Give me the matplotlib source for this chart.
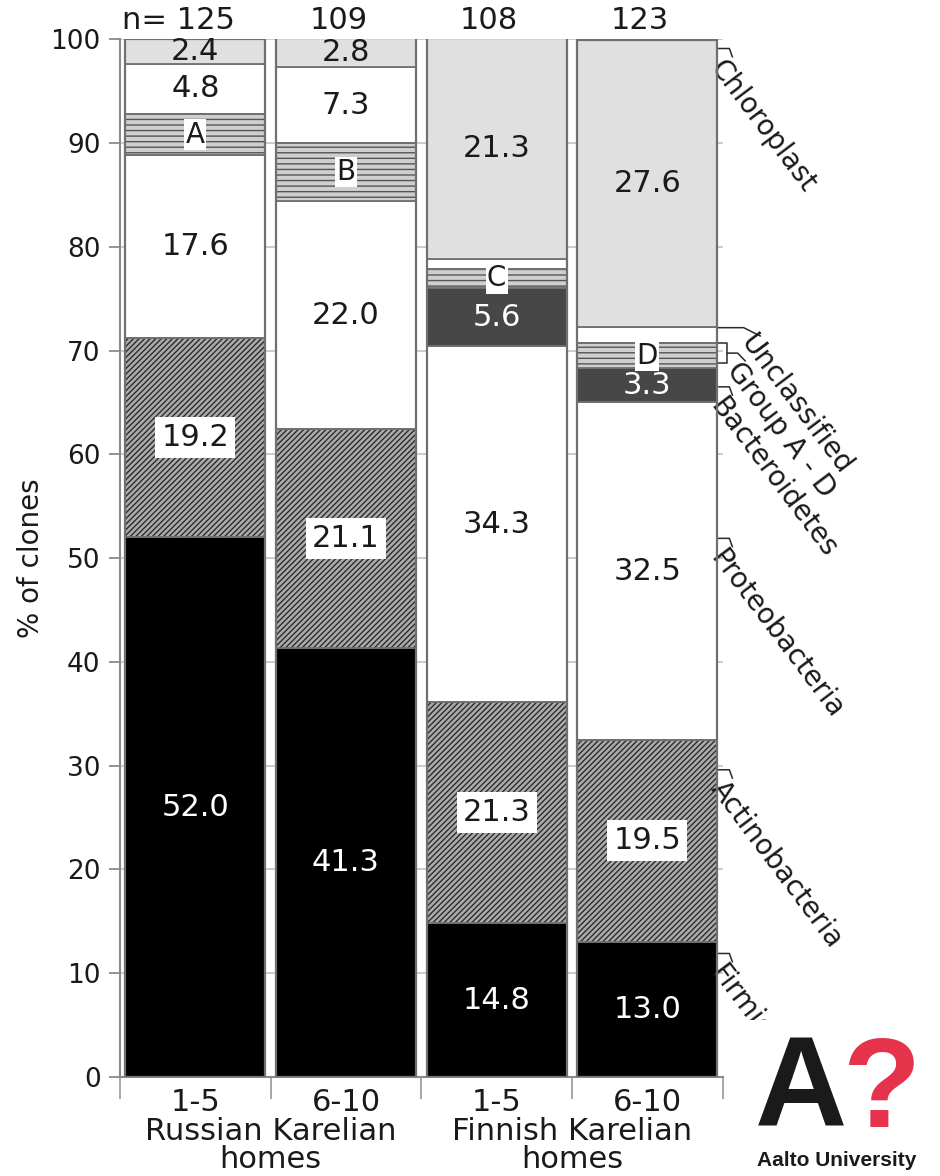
import numpy as np
import matplotlib
matplotlib.use("Agg")
from matplotlib import pyplot as plt
from matplotlib.patches import Rectangle
from matplotlib import transforms
from matplotlib.transforms import Bbox

# data (% of clones)
sites = ['1-5', '6-10', '1-5', '6-10']
n_clones = [125, 109, 108, 123]
firmicutes = [52.0, 41.3, 14.8, 13.0]
actinobacteria = [19.2, 21.1, 21.3, 19.5]
proteobacteria = [17.6, 22.0, 34.3, 32.5]
bacteroidetes = [0.0, 0.0, 5.6, 3.3]
group_ad = [4.0, 5.6, 1.9, 2.4]
unclassified = [4.8, 7.3, 0.9, 1.6]
chloroplast = [2.4, 2.8, 21.3, 27.6]
group_letters = ['A', 'B', 'C', 'D']
home_groups = ['Russian Karelian\nhomes', 'Finnish Karelian\nhomes']

taxa = ['Firmicutes', 'Actinobacteria', 'Proteobacteria', 'Bacteroidetes',
        'Group A - D', 'Unclassified', 'Chloroplast']
values = [firmicutes, actinobacteria, proteobacteria, bacteroidetes,
          group_ad, unclassified, chloroplast]

face = ['black', '#ababab', 'white', '#474747', '#cfcfcf', 'white', '#e0e0e0']
hatch = [None, '//////', None, None, '---', None, None]
hatchcol = [None, '#2c2c2c', None, None, '#555555', None, None]
txtcol = ['white', '#1a1a1a', '#1a1a1a', 'white', None, '#1a1a1a', '#1a1a1a']
edge = '#707070'

plt.rcParams['hatch.linewidth'] = 1.0
fig = plt.figure(figsize=(9.4, 11.76), dpi=100)
ax = fig.add_axes([0.1277, 0.0842, 0.641, 0.8825])

x = np.arange(len(sites))
w = 0.93
bottom = np.zeros(len(sites))
for i, (name, vals) in enumerate(zip(taxa, values)):
    vals = np.array(vals)
    if hatch[i]:
        ax.bar(x, vals, w, bottom=bottom, color=face[i], hatch=hatch[i],
               edgecolor=hatchcol[i], linewidth=0, zorder=2)
        ax.bar(x, vals, w, bottom=bottom, fill=False, edgecolor=edge,
               linewidth=1.3, zorder=3)
    else:
        ax.bar(x, vals, w, bottom=bottom, color=face[i], edgecolor=edge,
               linewidth=1.3, zorder=2)
    for j, v in enumerate(vals):
        yc = bottom[j] + v / 2
        if name == 'Group A - D':
            ax.text(x[j], yc, group_letters[j], ha='center', va='center',
                    fontsize=20, color='#1a1a1a', zorder=5,
                    bbox=dict(boxstyle='square,pad=0.05', fc='white', ec='none'))
        elif v >= 2.0:
            box = None
            if name == 'Actinobacteria':
                box = dict(boxstyle='square,pad=0.2', fc='white', ec='none')
            ax.text(x[j], yc, f'{v:.1f}', ha='center', va='center',
                    fontsize=22, color=txtcol[i], zorder=5, bbox=box)
    bottom += vals

# bar outlines
ax.bar(x, bottom, w, fill=False, edgecolor=edge, linewidth=1.6, zorder=4)

ax.set_xlim(-0.5, 3.5)
ax.set_ylim(0, 100)
ax.set_yticks(np.arange(0, 101, 10))
ax.yaxis.grid(True, color='#c4c4c4', linewidth=1.2, zorder=0)
ax.set_axisbelow(True)
for s in ['top', 'right']:
    ax.spines[s].set_visible(False)
for s in ['left', 'bottom']:
    ax.spines[s].set_color('#8a8a8a')
    ax.spines[s].set_linewidth(1.5)
ax.tick_params(axis='y', length=8, color='#8a8a8a', width=1.3,
               labelsize=19, labelcolor='#1a1a1a', pad=6)
ax.set_xticks(x)
ax.set_xticklabels(sites, fontsize=22, color='#1a1a1a')
ax.tick_params(axis='x', length=0, pad=8)
ax.set_xticks([-0.5, 0.5, 1.5, 2.5, 3.5], minor=True)
ax.tick_params(axis='x', which='minor', length=16, color='#a0a0a0', width=1.3)
ax.set_ylabel('% of clones', fontsize=20, color='#1a1a1a')
ax.yaxis.set_label_coords(-0.125, 0.5)

trans = transforms.blended_transform_factory(ax.transData, ax.transAxes)
for xc, lab in zip([0.5, 2.5], home_groups):
    ax.text(xc, -0.066, lab, transform=trans, ha='center', va='center',
            fontsize=22, color='#1a1a1a', linespacing=0.95, clip_on=False)

# n= on top
ax.text(x[0] - 0.11, 100.4, f'n= {n_clones[0]}', ha='center', va='bottom',
        fontsize=22, color='#1a1a1a', clip_on=False)
for j, n in enumerate(n_clones[1:], start=1):
    ax.text(x[j] - 0.05, 100.4, str(n), ha='center', va='bottom',
            fontsize=22, color='#1a1a1a', clip_on=False)

# right-hand taxon labels
label_y = [11.3, 29.0, 51.3, 65.9, 69.4, 72.0, 98.5]
label_x = [3.53, 3.53, 3.53, 3.53, 3.64, 3.73, 3.53]
xr = 3.5 - (1 - w) / 2
lc = '#2a2a2a'
for name, ly, lx in zip(taxa, label_y, label_x):
    t = ax.text(lx, ly, name, rotation=-53, rotation_mode='anchor',
                ha='left', va='top', fontsize=20, color='#1a1a1a',
                clip_on=False)
    if name == 'Firmicutes':
        # cut off by the logo box, as in the original
        t.set_clip_box(transforms.TransformedBbox(
            Bbox.from_extents(0, 0.1327, 1, 1), fig.transFigure))
        t.set_clip_on(True)
    if name in ('Group A - D', 'Unclassified'):
        continue
    ax.plot([xr + 0.01, xr + 0.08, xr + 0.1], [ly + 0.6, ly + 0.6, ly - 0.2],
            color=lc, lw=1.1, clip_on=False)
# Unclassified leader
ax.plot([xr, 3.64, 3.75], [72.2, 72.2, 71.4], color=lc, lw=1.1, clip_on=False)
# Group bracket
ax.plot([xr, 3.53, 3.53, xr], [70.7, 70.7, 68.8, 68.8], color=lc, lw=1.1,
        clip_on=False)
ax.plot([3.53, 3.6, 3.65], [69.75, 69.75, 69.0], color=lc, lw=1.1,
        clip_on=False)

# logo block
fig.patches.append(Rectangle((0.79, 0), 0.21, 0.1327, transform=fig.transFigure,
                             facecolor='white', edgecolor='none', zorder=5))
fig.text(0.803, 0.042, 'A', fontsize=92, fontweight='bold', color='#1a1a1a',
         family='Liberation Sans', ha='left', va='baseline', zorder=6)
fig.text(0.896, 0.042, '?', fontsize=92, fontweight='bold', color='#e5334b',
         family='Liberation Sans', ha='left', va='baseline', zorder=6)
fig.text(0.89, 0.0085, 'Aalto University', fontsize=15, fontweight='bold',
         color='#1a1a1a', family='Liberation Sans', ha='center',
         va='baseline', zorder=6)

fig.savefig('out.png', dpi=100, facecolor='white')
